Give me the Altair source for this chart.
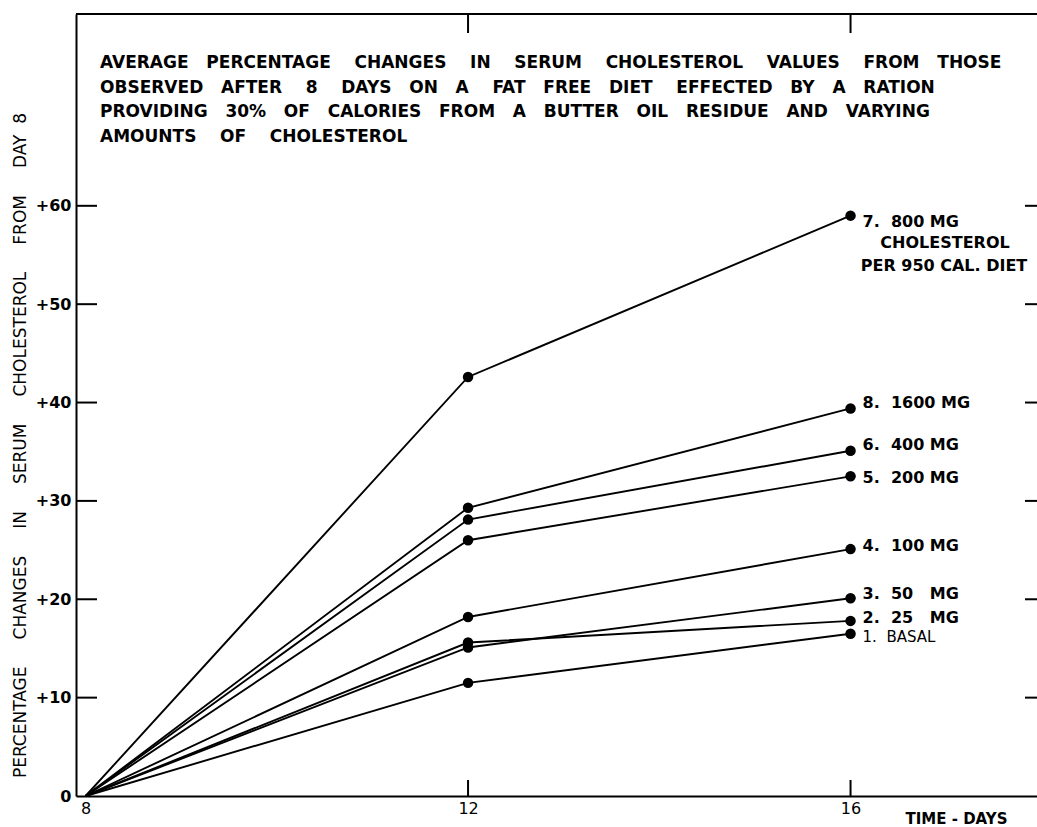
import altair as alt
import pandas as pd

# Days on the ration
days = [8, 12, 16]

# Average % change in serum cholesterol from day 8, one list per ration
series_names = [
    "1. BASAL",
    "2. 25 MG",
    "3. 50 MG",
    "4. 100 MG",
    "5. 200 MG",
    "6. 400 MG",
    "7. 800 MG",
    "8. 1600 MG",
]
basal = [0, 11.5, 16.5]
mg25 = [0, 15.6, 17.8]
mg50 = [0, 15.1, 20.1]
mg100 = [0, 18.2, 25.1]
mg200 = [0, 26.0, 32.5]
mg400 = [0, 28.1, 35.1]
mg800 = [0, 42.6, 59.0]
mg1600 = [0, 29.3, 39.4]
series_values = [basal, mg25, mg50, mg100, mg200, mg400, mg800, mg1600]

y_ticks = [0, 10, 20, 30, 40, 50, 60]
x_ticks = [8, 12, 16]

title_words = [
    ["AVERAGE", "PERCENTAGE", "CHANGES", "IN", "SERUM", "CHOLESTEROL", "VALUES", "FROM", "THOSE"],
    ["OBSERVED", "AFTER", "8", "DAYS", "ON", "A", "FAT", "FREE", "DIET", "EFFECTED", "BY", "A", "RATION"],
    ["PROVIDING", "30%", "OF", "CALORIES", "FROM", "A", "BUTTER", "OIL", "RESIDUE", "AND", "VARYING"],
    ["AMOUNTS", "OF", "CHOLESTEROL"],
]
# spaces between consecutive words of each lettered line
title_gaps = [
    [3, 4, 4, 4, 4, 4, 4, 3],
    [3, 4, 4, 3, 3, 4, 3, 3, 4, 3, 3, 3],
    [3, 3, 3, 3, 3, 3, 3, 3, 3, 3],
    [4, 4],
]
note_lines = ["CHOLESTEROL", "PER 950 CAL. DIET"]
y_title_words = ["PERCENTAGE", "CHANGES", "IN", "SERUM", "CHOLESTEROL", "FROM", "DAY"]
x_title = "TIME - DAYS"

NB = "\u00a0"  # non-breaking space keeps the wide lettering gaps in SVG


def spread(words, gaps):
    out = words[0]
    for w, g in zip(words[1:], gaps):
        out += NB * g + w
    return out


title_lines = [spread(w, g) for w, g in zip(title_words, title_gaps)]
y_title = spread(y_title_words, [5] * 6) + NB * 2 + "8"


def label_text(name):
    words = name.split(" ")
    gaps = [2] + [3 if len(words[1]) == 2 else 1] * (len(words) - 2)
    return spread(words, gaps)


rows = []
for name, vals in zip(series_names, series_values):
    for d, v in zip(days, vals):
        rows.append({"series": name, "label": label_text(name), "day": d, "change": v})
df = pd.DataFrame(rows)

W, H = 961, 782
FONT = "DejaVu Sans"

x_scale = alt.Scale(domain=[7.9, 17.95], nice=False, zero=False)
y_scale = alt.Scale(domain=[0, 79.5], nice=False)

x_enc = alt.X(
    "day:Q",
    scale=x_scale,
    axis=alt.Axis(
        values=x_ticks,
        format="d",
        ticks=False,
        grid=False,
        domainColor="black",
        domainWidth=2,
        labelFont=FONT,
        labelFontSize=16,
        labelColor="black",
        labelPadding=4,
        title=x_title,
        titleFont=FONT,
        titleFontSize=15,
        titleFontWeight="bold",
        titleColor="black",
        titleX=829,
        titleY=22,
        titleAlign="left",
        titleBaseline="middle",
    ),
)
y_enc = alt.Y(
    "change:Q",
    scale=y_scale,
    axis=alt.Axis(
        values=y_ticks,
        ticks=False,
        grid=False,
        domainColor="black",
        domainWidth=2,
        labelFont=FONT,
        labelFontSize=16,
        labelFontWeight="bold",
        labelColor="black",
        labelPadding=5,
        labelExpr="datum.value == 0 ? '0' : '+' + datum.label",
        title=y_title,
        titleFont=FONT,
        titleFontSize=17,
        titleFontWeight="normal",
        titleColor="black",
        titleX=-56,
        titleY=431,
        titleAngle=270,
        titleAlign="center",
        titleBaseline="middle",
    ),
)

base = alt.Chart(df)

lines = base.mark_line(color="black", strokeWidth=1.9).encode(
    x=x_enc, y=y_enc, detail="series:N"
)
points = (
    base.transform_filter("datum.day > 8")
    .mark_point(filled=True, color="black", size=110, opacity=1)
    .encode(x="day:Q", y="change:Q")
)

# Labels beside the day-16 points, with small vertical nudges
nudge = {
    "1. BASAL": 3,
    "2. 25 MG": -3,
    "3. 50 MG": -4,
    "4. 100 MG": -3,
    "5. 200 MG": 2,
    "6. 400 MG": -6,
    "7. 800 MG": 6,
    "8. 1600 MG": -5,
}
label_layers = []
for name in series_names:
    label_layers.append(
        base.transform_filter(
            f"datum.day == 16 && datum.series == '{name}'"
        )
        .mark_text(
            align="left",
            baseline="middle",
            dx=12,
            dy=nudge[name],
            font=FONT,
            fontSize=15 if name == "1. BASAL" else 16,
            fontWeight="normal" if name == "1. BASAL" else "bold",
            color="black",
        )
        .encode(x="day:Q", y="change:Q", text="label:N")
    )

notes = alt.Chart(pd.DataFrame({"t": note_lines, "k": [0, 1]}))
note1 = (
    notes.transform_filter("datum.k == 0")
    .mark_text(align="center", baseline="middle", font=FONT, fontSize=16,
               fontWeight="bold", color="black")
    .encode(x=alt.value(869), y=alt.value(229), text="t:N")
)
note2 = (
    notes.transform_filter("datum.k == 1")
    .mark_text(align="center", baseline="middle", font=FONT, fontSize=16,
               fontWeight="bold", color="black")
    .encode(x=alt.value(868), y=alt.value(252), text="t:N")
)

title = (
    alt.Chart(pd.DataFrame({"k": [0]}))
    .mark_text(
        align="left",
        baseline="alphabetic",
        font=FONT,
        fontSize=17,
        fontWeight="bold",
        color="black",
        lineHeight=24.5,
        text=title_lines,
    )
    .encode(x=alt.value(24), y=alt.value(54))
)

# Frame: top border and inward tick marks on all four sides
inner_y = pd.DataFrame({"v": [t for t in y_ticks if t > 0]})
inner_x = pd.DataFrame({"v": [t for t in x_ticks if t > 8]})
frame_top = (
    alt.Chart(pd.DataFrame({"k": [0]}))
    .mark_rule(color="black", strokeWidth=2)
    .encode(x=alt.value(0), x2=alt.value(W), y=alt.value(0))
)
left_ticks = (
    alt.Chart(inner_y)
    .mark_rule(color="black", strokeWidth=2)
    .encode(y=alt.Y("v:Q", scale=y_scale), x=alt.value(0), x2=alt.value(21))
)
right_ticks = (
    alt.Chart(inner_y)
    .mark_rule(color="black", strokeWidth=2)
    .encode(y=alt.Y("v:Q", scale=y_scale), x=alt.value(W - 12), x2=alt.value(W))
)
top_ticks = (
    alt.Chart(inner_x)
    .mark_rule(color="black", strokeWidth=2)
    .encode(x=alt.X("v:Q", scale=x_scale), y=alt.value(0), y2=alt.value(19))
)
bottom_ticks = (
    alt.Chart(inner_x)
    .mark_rule(color="black", strokeWidth=2)
    .encode(x=alt.X("v:Q", scale=x_scale), y=alt.value(H - 16), y2=alt.value(H))
)

chart = (
    alt.layer(
        lines, points, *label_layers, note1, note2, title,
        frame_top, left_ticks, right_ticks, top_ticks, bottom_ticks,
    )
    .properties(
        width=W,
        height=H,
        autosize=alt.AutoSizeParams(type="none"),
        padding={"left": 76, "top": 14, "right": 0, "bottom": 31},
        background="white",
    )
    .configure_view(stroke=None)
)

chart.save("out.html", embed_options={"renderer": "svg", "actions": False})
